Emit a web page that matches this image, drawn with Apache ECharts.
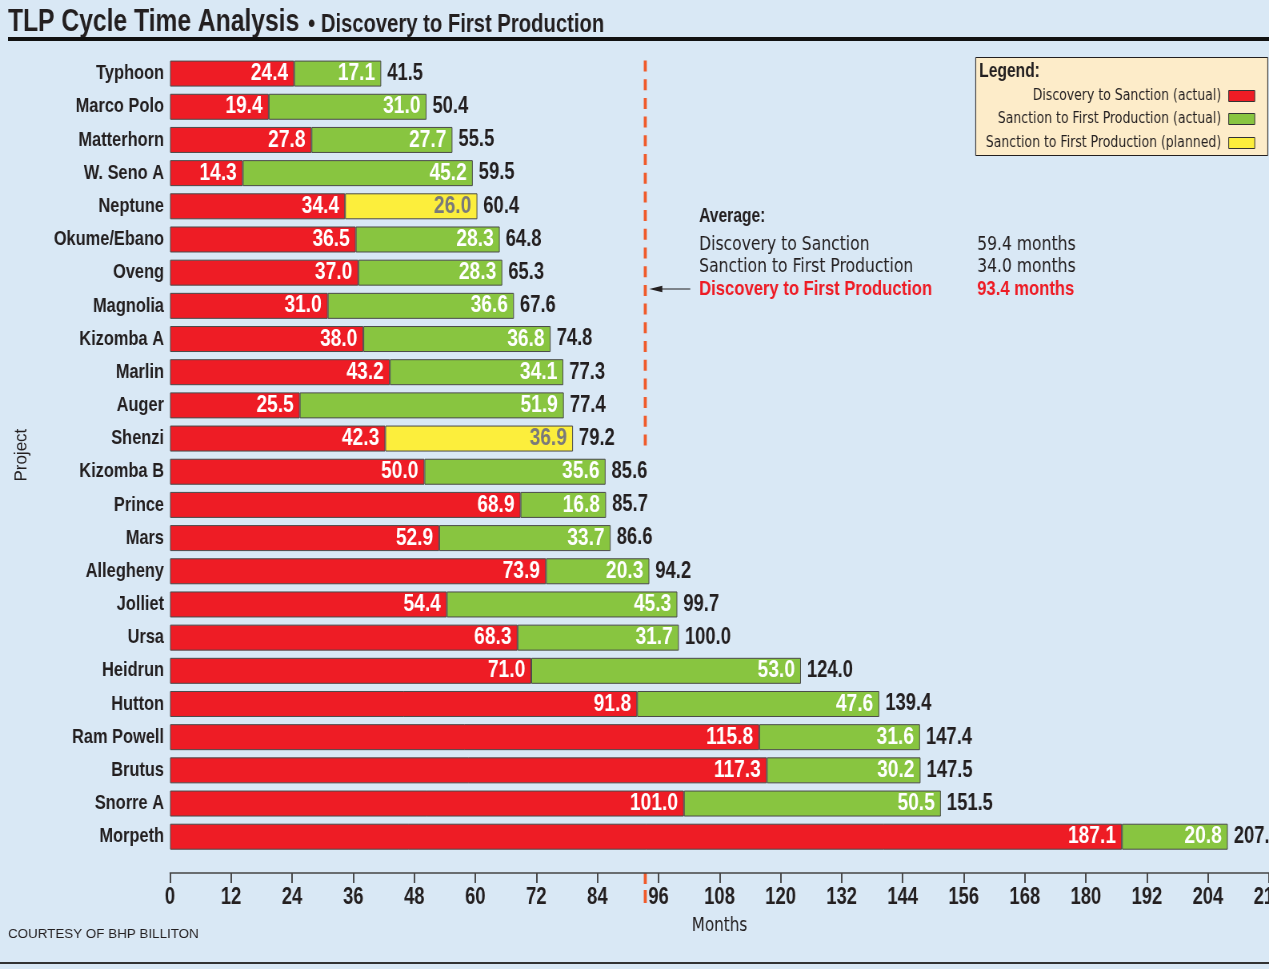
<!DOCTYPE html>
<html><head><meta charset="utf-8">
<script src="https://cdn.jsdelivr.net/npm/echarts@6/dist/echarts.min.js"></script>
<style>
html,body{margin:0;padding:0;background:#d9e8f5;overflow:hidden;width:1269px;height:969px}
#c{width:1586px;height:969px;transform:scaleX(0.80013);transform-origin:0 0}
</style>
</head><body><div id="c"></div>
<script>
const projects = ['Typhoon','Marco Polo','Matterhorn','W. Seno A','Neptune','Okume/Ebano','Oveng','Magnolia','Kizomba A','Marlin','Auger','Shenzi','Kizomba B','Prince','Mars','Allegheny','Jolliet','Ursa','Heidrun','Hutton','Ram Powell','Brutus','Snorre A','Morpeth'];
const discoveryToSanction = [24.4,19.4,27.8,14.3,34.4,36.5,37.0,31.0,38.0,43.2,25.5,42.3,50.0,68.9,52.9,73.9,54.4,68.3,71.0,91.8,115.8,117.3,101.0,187.1];
const sanctionToProdActual = [17.1,31.0,27.7,45.2,null,28.3,28.3,36.6,36.8,34.1,51.9,null,35.6,16.8,33.7,20.3,45.3,31.7,53.0,47.6,31.6,30.2,50.5,20.8];
const sanctionToProdPlanned = [null,null,null,null,26.0,null,null,null,null,null,null,36.9,null,null,null,null,null,null,null,null,null,null,null,null];
const totals = [41.5,50.4,55.5,59.5,60.4,64.8,65.3,67.6,74.8,77.3,77.4,79.2,85.6,85.7,86.6,94.2,99.7,100.0,124.0,139.4,147.4,147.5,151.5,207.9];
const seriesNames = ['Discovery to Sanction (actual)','Sanction to First Production (actual)','Sanction to First Production (planned)'];
const seriesColors = ['#ee1c25','#88c540','#fcee3c'];
const averageTotal = 93.4;
const averageLabels = ['Discovery to Sanction','Sanction to First Production','Discovery to First Production'];
const averageValues = ['59.4 months','34.0 months','93.4 months'];
const lastBarOfDashed = 'Shenzi';

const SX = 1.25; // horizontal compensation for the condensed (scaleX) container
const B = '"Liberation Sans",Arial,sans-serif';
const R = '"DejaVu Sans",sans-serif';
const DARK = '#231f20';
const toData = a => a.map(v => v == null ? '-' : v);

const chart = echarts.init(document.getElementById('c'), null, {renderer:'canvas', width:1586, height:969});

function barSeries(idx, data, labelColor) {
  return {
    name: seriesNames[idx], type:'bar', stack:'t', barWidth:26,
    data: toData(data),
    itemStyle:{color:seriesColors[idx], borderColor:'#4a4a4a', borderWidth:1},
    label:{show:true, position:'insideRight', distance:7.5, color:labelColor,
      fontFamily:B, fontWeight:'bold', fontSize:24,
      formatter: p => (typeof p.value === 'number') ? p.value.toFixed(1) : ''},
    emphasis:{disabled:true}, animation:false
  };
}

chart.setOption({
  backgroundColor:'#d9e8f5',
  animation:false,
  grid:{left:170*SX, right:0, top:57, bottom:115.7, containLabel:false, outerBoundsMode:'none'},
  xAxis:{type:'value', min:0, max:216, interval:12, position:'bottom', offset:19.7,
    axisLine:{show:true, lineStyle:{color:'#444', width:1.5}},
    axisTick:{show:true, length:10, lineStyle:{color:'#444', width:1.9}},
    splitLine:{show:false},
    axisLabel:{color:DARK, fontFamily:B, fontWeight:'bold', fontSize:23, margin:13, hideOverlap:false},
    name:'Months', nameLocation:'middle', nameGap:44,
    nameTextStyle:{color:DARK, fontFamily:R, fontSize:19}},
  yAxis:{type:'category', data:projects, inverse:true,
    axisLine:{show:false}, axisTick:{show:false},
    axisLabel:{color:DARK, fontFamily:B, fontWeight:'bold', fontSize:20.5, margin:7.5}},
  series:[
    barSeries(0, discoveryToSanction, '#ffffff'),
    barSeries(1, sanctionToProdActual, '#ffffff'),
    barSeries(2, sanctionToProdPlanned, '#7a7a7a'),
    {type:'scatter', name:'Total', symbolSize:0, itemStyle:{color:DARK, opacity:1},
     data: totals.map((t,i)=>[t, projects[i]]),
     label:{show:true, position:'right', distance:7.5, color:DARK, opacity:1, fontFamily:B, fontWeight:'bold', fontSize:23,
       formatter: p => p.value[0].toFixed(1)},
     emphasis:{disabled:true}, silent:true, clip:false}
  ]
});

const x0 = chart.convertToPixel({xAxisIndex:0}, averageTotal);
const yShen = chart.convertToPixel({yAxisIndex:0}, lastBarOfDashed);
const gridMidY = (chart.convertToPixel({yAxisIndex:0}, projects[0]) + chart.convertToPixel({yAxisIndex:0}, projects[projects.length-1])) / 2;
const axisY = 873;
const ORANGE = '#f05a2a';

const graphics = [
  {type:'text', x:8*SX, y:22.5, style:{text:'TLP Cycle Time Analysis', fill:DARK, font:'bold 30.8px '+B, verticalAlign:'middle'}},
  {type:'text', x:308*SX, y:24.8, style:{text:'\u2022 Discovery to First Production', fill:DARK, font:'bold 25.3px '+B, verticalAlign:'middle'}},
  {type:'rect', shape:{x:8*SX, y:37, width:1586, height:4}, style:{fill:'#111'}},
  {type:'rect', shape:{x:0, y:962, width:1586, height:2}, style:{fill:'#333'}},
  {type:'text', x:8*SX, y:934, scaleX:SX, style:{text:'COURTESY OF BHP BILLITON', fill:DARK, font:'13.4px '+B, verticalAlign:'middle'}},
  {type:'text', x:22*SX, y:gridMidY, rotation:Math.PI/2, scaleY:SX, style:{text:'Project', fill:DARK, font:'17px '+B, align:'center', verticalAlign:'middle'}},
  {type:'line', shape:{x1:x0, y1:60.5, x2:x0, y2:yShen+7}, style:{stroke:ORANGE, lineWidth:3*SX, lineDash:[11,7.7]}},
  {type:'line', shape:{x1:x0, y1:axisY, x2:x0, y2:axisY+11}, style:{stroke:ORANGE, lineWidth:3*SX}},
  {type:'line', shape:{x1:x0, y1:axisY+17, x2:x0, y2:axisY+30}, style:{stroke:ORANGE, lineWidth:3*SX}},
  {type:'line', shape:{x1:x0+12*SX, y1:289, x2:x0+45*SX, y2:289}, style:{stroke:DARK, lineWidth:1.2}},
  {type:'polygon', shape:{points:[[x0+4*SX,289],[x0+17*SX,285.8],[x0+17*SX,292.2]]}, style:{fill:DARK}},
  {type:'text', x:699*SX, y:217, style:{text:'Average:', fill:DARK, font:'bold 19.5px '+B, verticalAlign:'middle'}}
];
const avgY = [245, 267, 289];
averageLabels.forEach((t,i)=>{
  const red = i === 2;
  const font = red ? 'bold 20.8px ' + B : '19.5px ' + R;
  const fill = red ? seriesColors[0] : DARK;
  graphics.push({type:'text', x:699*SX, y:avgY[i], style:{text:t, fill, font, verticalAlign:'middle'}});
  graphics.push({type:'text', x:977*SX, y:avgY[i], style:{text:averageValues[i], fill, font, verticalAlign:'middle'}});
});
// legend box
graphics.push({type:'rect', shape:{x:975.5*SX, y:57.5, width:292*SX, height:98}, style:{fill:'#fdecc9', stroke:DARK, lineWidth:1}});
graphics.push({type:'text', x:979*SX, y:72, style:{text:'Legend:', fill:DARK, font:'bold 19.5px '+B, verticalAlign:'middle'}});
const legY = [96, 119, 143];
seriesNames.forEach((n,i)=>{
  graphics.push({type:'text', x:1221*SX, y:legY[i], style:{text:n, fill:DARK, font:'15.6px '+R, align:'right', verticalAlign:'middle'}});
  graphics.push({type:'rect', shape:{x:1228.5*SX, y:legY[i]-5.5, width:26*SX, height:11}, style:{fill:seriesColors[i], stroke:'#333', lineWidth:1}});
});
chart.setOption({graphic:graphics});
</script></body></html>
